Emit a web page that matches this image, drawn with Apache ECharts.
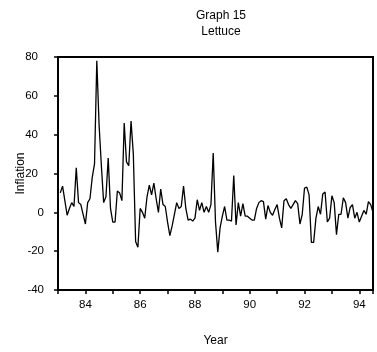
<!DOCTYPE html>
<html>
<head>
<meta charset="utf-8">
<title>Graph 15 - Lettuce</title>
<script src="https://cdn.jsdelivr.net/npm/echarts@6.0.0/dist/echarts.min.js"></script>
<style>
  html, body { margin: 0; padding: 0; background: #fff; }
  #chart { width: 377px; height: 352px; }
</style>
</head>
<body>
<div id="chart"></div>
<script>
// monthly lettuce inflation, 1983:01 .. 1994:06
const startYear = 83;
const inflation = [
  10, 13.5, 6, -1.5, 2, 5, 3, 23, 5, 4, -1, -6,
  5, 7, 18, 25, 78, 45, 24, 5, 8, 28, 2, -5,
  -5, 11, 10, 6, 46, 26, 24, 47, 30, -15, -18, 2,
  0, -3, 8, 14, 9, 15, 7, 0, 12, 4, 3, -5,
  -12, -7, -1, 5, 2, 3, 13.5, 2, -4, -3.5, -4.5, -3,
  6.5, 1, 5, 0, 3, 0, 4, 30.5, -5, -20.5, -8, -2,
  3, -4, -4, -4.5, 19, -6.5, 5, -2, 4.5, -2, -2, -3,
  -4, -4, 2, 5, 6, 5.5, -3.5, 3.5, 0, -1.5, 1.5, 4,
  -3, -8, 6, 7, 4, 2, 4, 6, 4.5, -6, -1, 12.5,
  13, 9, -15.5, -15.5, -3, 3, -1, 9.5, 10.5, -5, -3, 8.5,
  5, -11.5, -1, -1, 7.5, 5, -3, 2.5, 4, -3, 0, -5,
  -2, 1, -1, 5.5, 4, 0
];
const yearLabels = [84, 86, 88, 90, 92, 94];
const yMin = -40, yMax = 80, yStep = 20;

const FONT = "'Liberation Sans', Arial, sans-serif";
const points = inflation.map((v, i) => [startYear + (i + 1) / 12, v]);
const xMax = points[points.length - 1][0];

const chart = echarts.init(document.getElementById('chart'));
const option = {
  backgroundColor: '#fff',
  animation: false,
  title: {
    text: 'Graph 15\nLettuce',
    left: 216,
    textAlign: 'center',
    top: 2,
    textStyle: {
      fontFamily: FONT,
      fontSize: 12,
      fontWeight: 'normal',
      color: '#000',
      lineHeight: 16.5
    }
  },
  grid: {
    left: 58,
    top: 57,
    width: 315,
    height: 233,
    outerBoundsMode: 'none',
    show: true,
    borderColor: '#000',
    borderWidth: 2,
    backgroundColor: 'rgba(0,0,0,0)'
  },
  xAxis: {
    type: 'value',
    min: startYear,
    max: xMax,
    interval: 1,
    name: 'Year',
    nameLocation: 'middle',
    nameGap: 45,
    nameTextStyle: { fontFamily: FONT, fontSize: 12, color: '#000' },
    axisLine: { show: true, onZero: false, lineStyle: { color: '#000', width: 2 } },
    axisTick: { length: 4, lineStyle: { color: '#000', width: 1.5 } },
    axisLabel: {
      margin: 9,
      fontFamily: FONT,
      fontSize: 11.5,
      color: '#000',
      formatter: v => (yearLabels.indexOf(v) >= 0 ? String(v) : '')
    },
    splitLine: { show: false }
  },
  yAxis: {
    type: 'value',
    min: yMin,
    max: yMax,
    interval: yStep,
    name: 'Inflation',
    nameLocation: 'middle',
    nameGap: 31,
    nameMoveOverlap: false,
    nameTextStyle: { fontFamily: FONT, fontSize: 12, color: '#000' },
    axisLine: { show: true, onZero: false, lineStyle: { color: '#000', width: 2 } },
    axisTick: { show: true, length: 4, lineStyle: { color: '#000', width: 1.5 } },
    axisLabel: {
      margin: 14,
      fontFamily: FONT,
      fontSize: 11.5,
      color: '#000',
      formatter: v => (v > 0 ? '{p|' + v + '}' : '{n|' + v + '}'),
      rich: {
        p: { fontFamily: FONT, fontSize: 11.5, color: '#000', padding: [0, 6, 0, 0] },
        n: { fontFamily: FONT, fontSize: 11.5, color: '#000' }
      }
    },
    splitLine: { show: false }
  },
  series: [{
    name: 'Lettuce',
    type: 'line',
    data: points,
    showSymbol: false,
    lineStyle: { color: '#000', width: 1.3 },
    itemStyle: { color: '#000' }
  }]
};
chart.setOption(option);
</script>
</body>
</html>
